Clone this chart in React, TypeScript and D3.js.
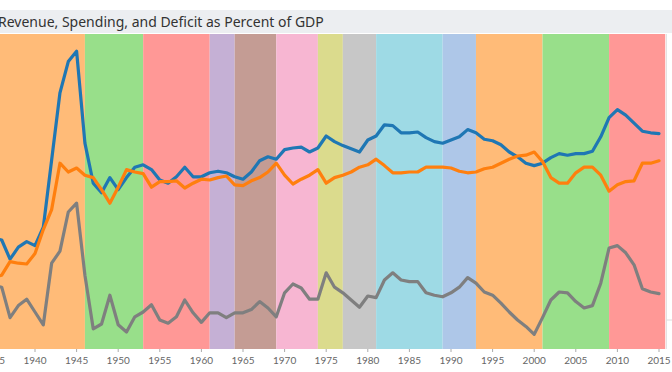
import { useEffect, useRef } from 'react';
import * as d3 from 'd3';

// years covered by the three series
const years: number[] = d3.range(1935, 2016);

// spending (outlays), % of GDP
const spending: number[] = [
    10.2, 10.0, 7.6, 9.1, 9.8, 9.3, 11.6, 20.0, 28.4, 32.3,
    33.6, 22.1, 17.1, 15.9, 17.8, 16.3, 17.8, 19.1, 19.4, 18.8,
    17.5, 17.1, 17.9, 19.1, 17.9, 17.9, 18.4, 18.6, 18.4, 17.9,
    17.6, 18.5, 19.9, 20.4, 20.1, 21.3, 21.5, 21.6, 21.0, 21.5,
    23.0, 22.3, 21.8, 21.4, 21.0, 22.5, 23.0, 24.4, 24.3, 23.4,
    23.4, 23.5, 22.8, 22.3, 22.1, 22.5, 22.9, 23.8, 23.4, 22.6,
    22.4, 21.9, 21.0, 20.4, 19.6, 19.3, 19.6, 20.3, 20.8, 20.6,
    20.8, 20.8, 21.1, 22.9, 25.3, 26.3, 25.6, 24.6, 23.6, 23.4,
    23.3
];

// revenue (receipts), % of GDP
const revenue: number[] = [
    5.4, 5.6, 7.3, 7.1, 7.0, 8.3, 11.3, 13.8, 19.6, 18.5,
    19.0, 18.1, 17.8, 16.3, 14.6, 16.6, 18.8, 18.5, 18.3, 16.6,
    17.3, 17.3, 17.4, 16.5, 17.1, 17.6, 17.5, 17.8, 18.0, 16.9,
    16.8, 17.4, 17.8, 18.5, 19.6, 18.1, 17.0, 17.6, 18.1, 18.8,
    17.1, 17.8, 18.1, 18.5, 19.1, 19.4, 20.1, 19.3, 18.4, 18.4,
    18.5, 18.5, 19.1, 19.1, 19.1, 19.0, 18.6, 18.4, 18.5, 18.9,
    19.1, 19.6, 20.1, 20.5, 20.6, 21.0, 19.8, 17.8, 17.1, 17.1,
    18.4, 19.1, 19.1, 18.1, 16.1, 16.9, 17.3, 17.4, 19.6, 19.6,
    19.9
];

// deficit, % of GDP
const deficit: number[] = [
    4.3, 4.1, 0.3, 1.8, 2.6, 1.0, -0.6, 7.1, 8.6, 13.5,
    14.6, 5.6, -1.1, -0.5, 3.1, -0.6, -1.5, 0.4, 1.0, 1.9,
    0.0, -0.4, 0.4, 2.5, 0.9, -0.3, 0.9, 0.9, 0.3, 0.9,
    0.9, 1.3, 2.3, 1.5, 0.4, 3.4, 4.5, 4.0, 2.6, 2.6,
    5.9, 4.1, 3.4, 2.5, 1.6, 3.0, 2.8, 5.0, 5.9, 5.0,
    4.8, 4.8, 3.4, 3.1, 2.9, 3.4, 4.1, 5.3, 4.6, 3.5,
    3.1, 2.1, 1.0, 0.0, -0.8, -1.8, 0.3, 2.5, 3.5, 3.4,
    2.3, 1.5, 1.8, 4.6, 9.0, 9.3, 8.4, 6.9, 3.9, 3.5,
    3.3
];

// administrations shown as background bands
const termStart: number[] = [1934, 1946, 1953, 1961, 1964, 1969, 1974, 1977, 1981, 1989, 1993, 2001, 2009];
const termEnd: number[] = [1946, 1953, 1961, 1964, 1969, 1974, 1977, 1981, 1989, 1993, 2001, 2009, 2015.75];
const termColors: string[] = [
    '#ffbb78', '#98df8a', '#ff9896', '#c5b0d5', '#c49c94', '#f7b6d2', '#dbdb8d',
    '#c7c7c7', '#9edae5', '#aec7e8', '#ffbb78', '#98df8a', '#ff9896'
];

const tickYears: number[] = d3.range(1935, 2016, 5);

const seriesList = [
    { name: 'Spending', values: spending, color: '#1f77b4' },
    { name: 'Revenue', values: revenue, color: '#ff7f0e' },
    { name: 'Deficit', values: deficit, color: '#7f7f7f' }
];

const WIDTH = 672;
const HEIGHT = 372;

export default function App() {
    const svgRef = useRef<SVGSVGElement>(null);

    useEffect(() => {
        if (!svgRef.current) return;
        const svg = d3.select(svgRef.current);
        svg.selectAll('*').remove();

        const plotTop = 34;
        const plotBottom = 349;
        const plotRight = 665;

        const x = d3.scaleLinear().domain([1940, 2015]).range([35, 659]);
        const y = d3.scaleLinear().domain([0, 30]).range([320, 80]);

        // title bar
        svg.append('rect')
            .attr('x', 0).attr('y', 10)
            .attr('width', WIDTH).attr('height', 23)
            .attr('fill', '#eceef1');
        svg.append('text')
            .attr('x', -2).attr('y', 27)
            .attr('font-family', '"Noto Sans", sans-serif')
            .attr('font-size', 14)
            .attr('fill', '#333')
            .text('Revenue, Spending, and Deficit as Percent of GDP');

        // administration bands
        svg.append('g')
            .selectAll('rect')
            .data(termStart.map((s, i) => ({ s, e: termEnd[i], c: termColors[i] })))
            .join('rect')
            .attr('x', d => x(d.s))
            .attr('y', plotTop)
            .attr('width', d => x(d.e) - x(d.s))
            .attr('height', plotBottom - plotTop)
            .attr('fill', d => d.c);

        // right edge border and zero line stub
        svg.append('line')
            .attr('x1', plotRight + 1.5).attr('x2', plotRight + 1.5)
            .attr('y1', plotTop).attr('y2', plotBottom)
            .attr('stroke', '#e3e3e3');
        svg.append('line')
            .attr('x1', plotRight + 1.5).attr('x2', WIDTH)
            .attr('y1', y(0)).attr('y2', y(0))
            .attr('stroke', '#dcdcdc');

        // lines
        const line = d3.line<number>()
            .x((_, i) => x(years[i]))
            .y(d => y(d));

        svg.append('g')
            .selectAll('path')
            .data(seriesList)
            .join('path')
            .attr('fill', 'none')
            .attr('stroke', d => d.color)
            .attr('stroke-width', 3.2)
            .attr('stroke-linejoin', 'round')
            .attr('stroke-linecap', 'round')
            .attr('d', d => line(d.values));

        // x axis
        const axis = svg.append('g');
        axis.selectAll('line')
            .data(tickYears)
            .join('line')
            .attr('x1', d => x(d)).attr('x2', d => x(d))
            .attr('y1', plotBottom).attr('y2', plotBottom + 3)
            .attr('stroke', '#aaa');
        axis.selectAll('text')
            .data(tickYears)
            .join('text')
            .attr('x', d => x(d))
            .attr('y', 364)
            .attr('text-anchor', 'middle')
            .attr('font-family', 'Lato, sans-serif')
            .attr('font-size', 10)
            .attr('fill', '#666')
            .text(d => String(d));
    }, []);

    return (
        <svg
            ref={svgRef}
            width={WIDTH}
            height={HEIGHT}
            style={{ position: 'absolute', left: 0, top: 0, background: '#fff' }}
        />
    );
}
